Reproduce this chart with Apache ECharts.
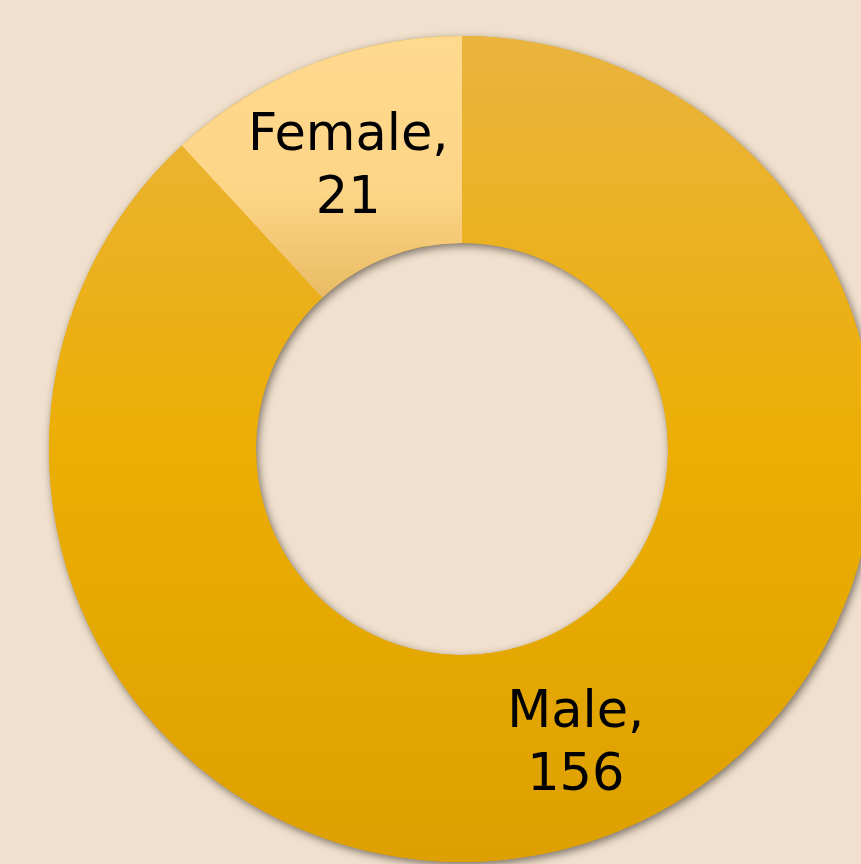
<!DOCTYPE html>
<html>
<head>
<meta charset="utf-8">
<script src="https://cdn.jsdelivr.net/npm/echarts@6/dist/echarts.min.js"></script>
<style>
  html, body { margin: 0; padding: 0; background: #f1e0cd; }
  #chart { width: 861px; height: 864px; }
</style>
</head>
<body>
<div id="chart"></div>
<script>
var categories = ['Male', 'Female'];
var values = [156, 21];

var sliceColors = [
  { top: '#eab43e', mid: '#ecae04', bottom: '#dda000' },
  { top: '#ffd98e', mid: '#fdd587', bottom: '#e9bb64' }
];

var center = [462, 449];
var radius = [206, 413];

var chart = echarts.init(document.getElementById('chart'));

var option = {
  backgroundColor: '#f1e0cd',
  animation: false,
  series: [
    {
      // ring underneath only to cast the shadow
      type: 'pie',
      silent: true,
      center: center,
      radius: radius,
      label: { show: false },
      labelLine: { show: false },
      itemStyle: {
        color: '#e6aa10',
        shadowBlur: 8,
        shadowOffsetX: 2,
        shadowOffsetY: 3,
        shadowColor: 'rgba(0, 0, 0, 0.5)'
      },
      emphasis: { disabled: true },
      data: [{ name: 'ring', value: 1 }]
    },
    {
      type: 'pie',
      center: center,
      radius: radius,
      startAngle: 90,
      clockwise: true,
      label: {
        show: true,
        position: 'inside',
        formatter: '{b},\n{c}',
        color: '#000',
        fontFamily: '"DejaVu Sans", sans-serif',
        fontSize: 51,
        lineHeight: 63
      },
      labelLayout: function (params) {
        return { dy: params.dataIndex === 1 ? 10 : 5 };
      },
      labelLine: { show: false },
      emphasis: { disabled: true },
      data: categories.map(function (name, i) {
        return {
          name: name,
          value: values[i],
          itemStyle: {
            color: new echarts.graphic.LinearGradient(0, 0, 0, 1, [
              { offset: 0, color: sliceColors[i].top },
              { offset: i === 0 ? 0.5 : 0.6, color: sliceColors[i].mid },
              { offset: 1, color: sliceColors[i].bottom }
            ])
          }
        };
      })
    }
  ]
};

chart.setOption(option);
</script>
</body>
</html>
